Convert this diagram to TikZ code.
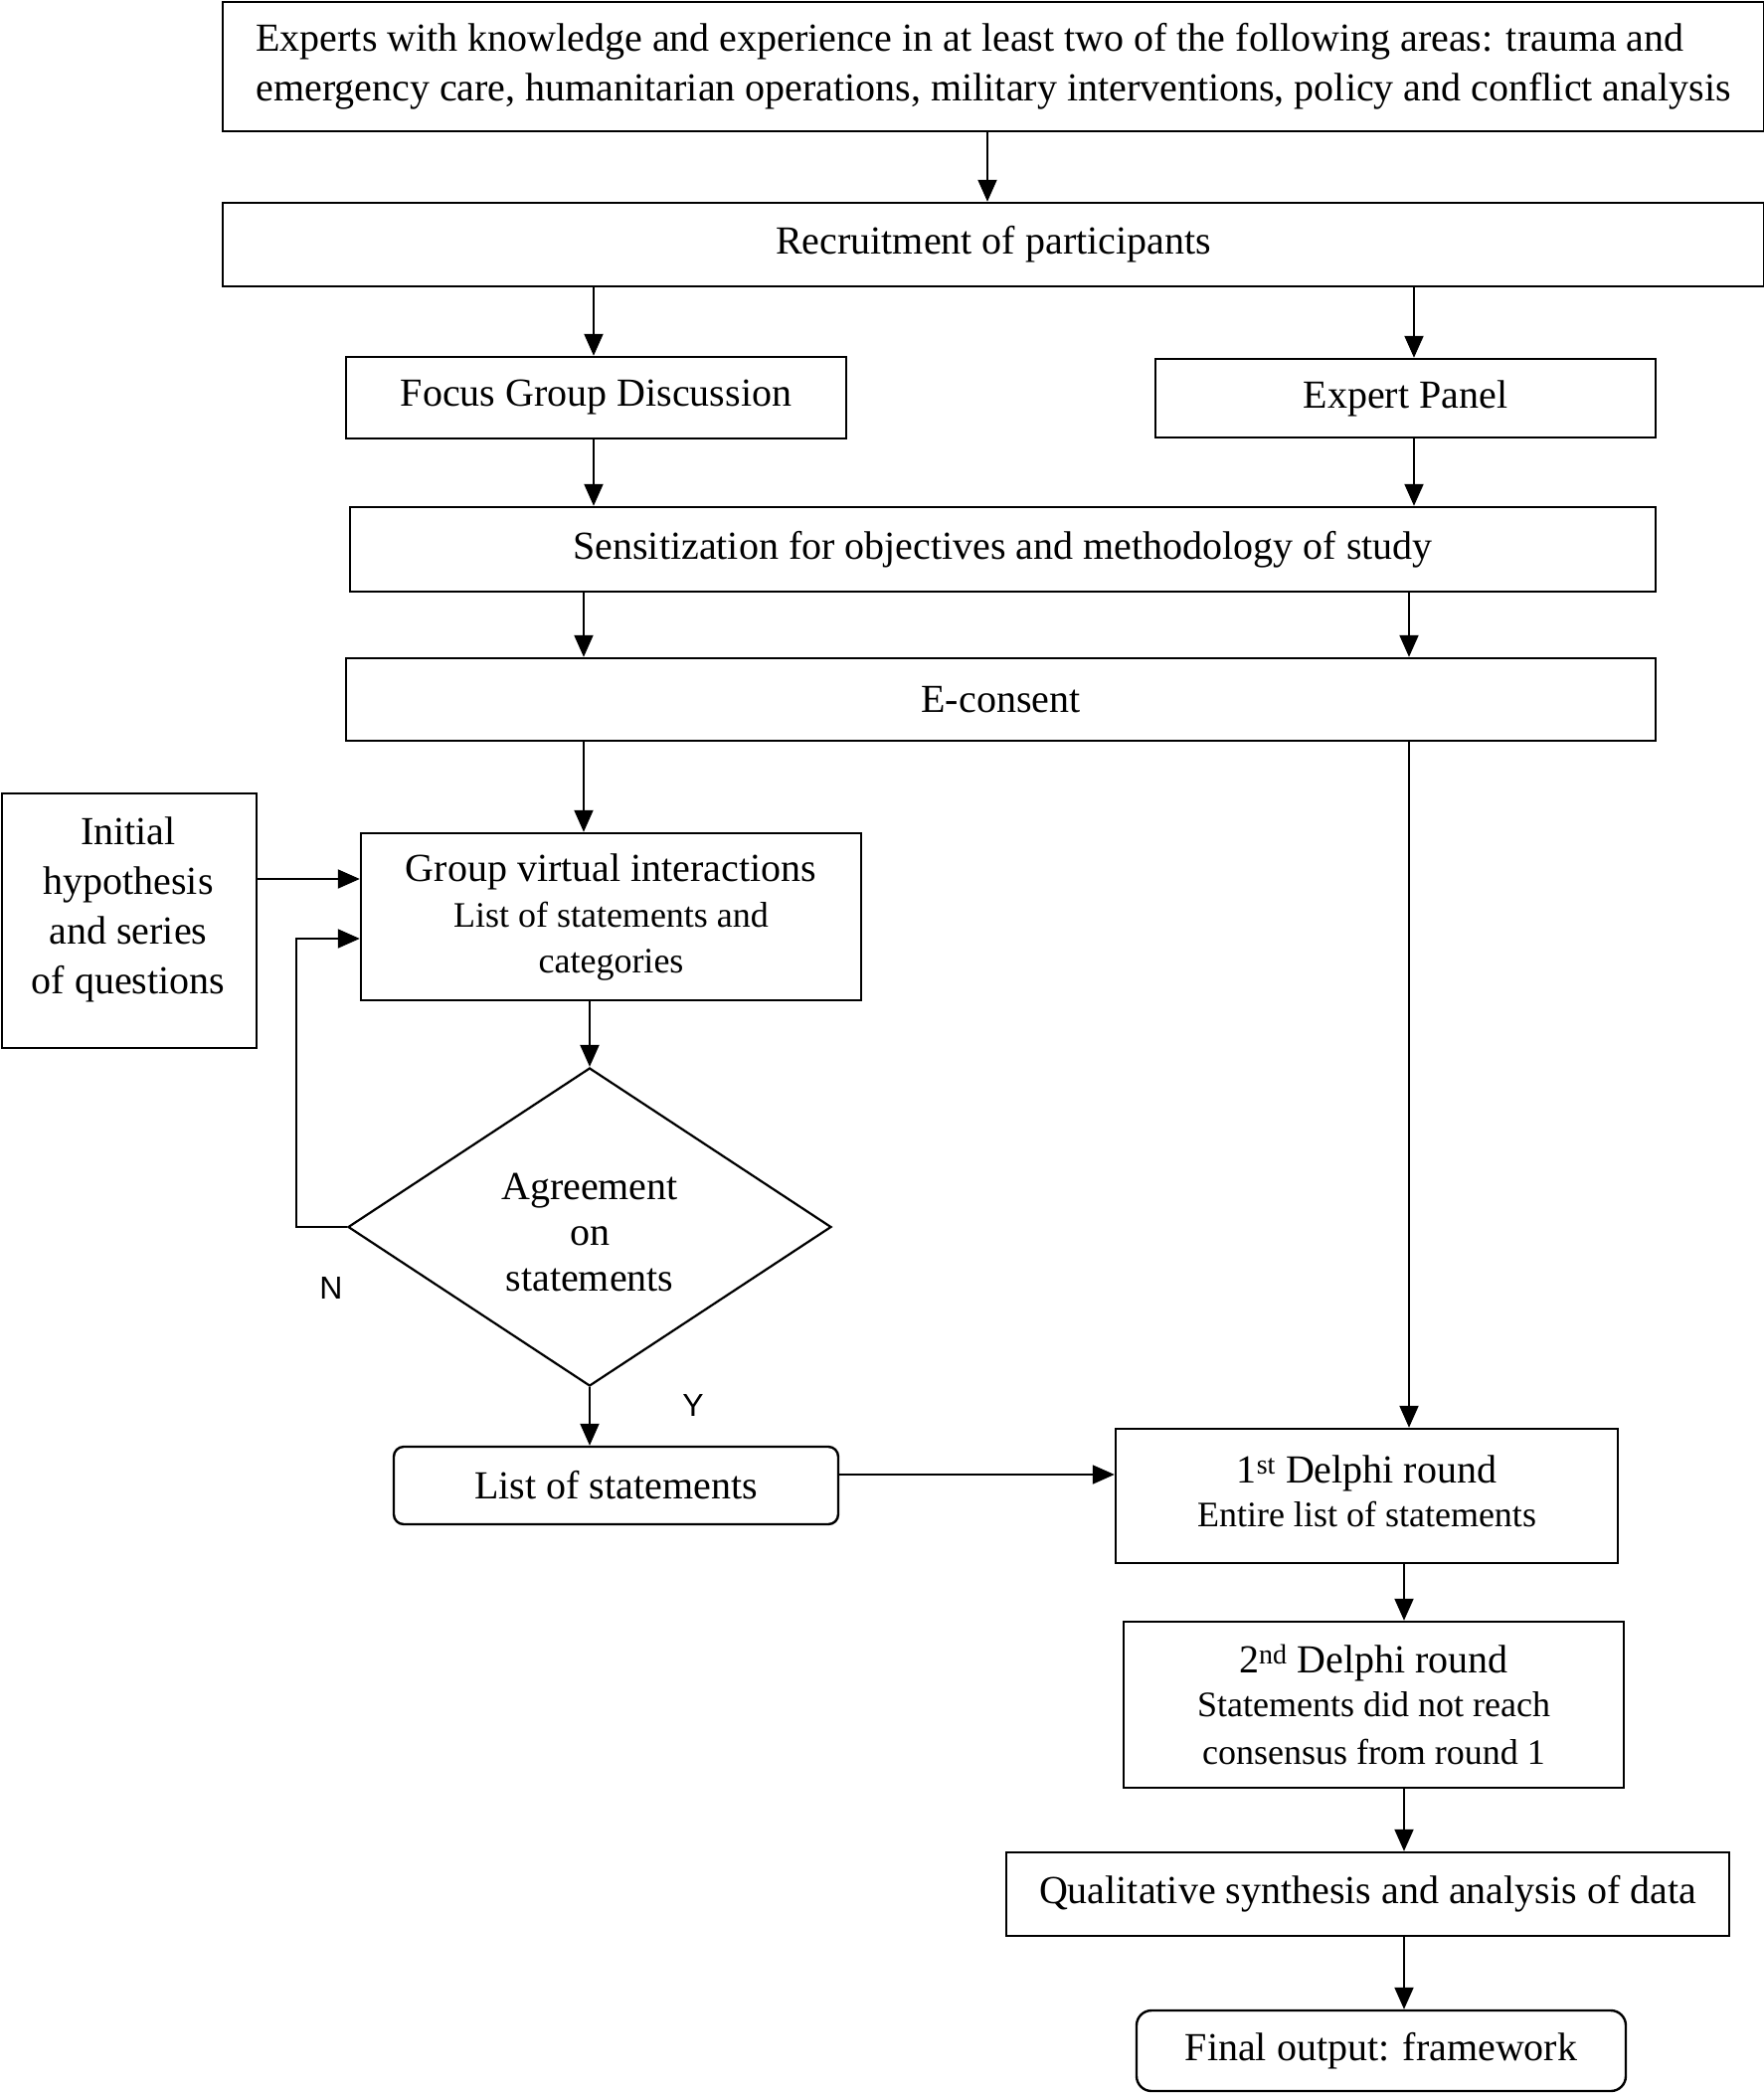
\documentclass[tikz,border=0pt]{standalone}
\usepackage{fontspec}
\setmainfont{Liberation Serif}
\newfontfamily\lsans{Liberation Sans}
\usetikzlibrary{arrows.meta,shapes.geometric}
\begin{document}
\begin{tikzpicture}[x=1pt,y=-1pt,
  box/.style={draw, line width=2.4pt, inner sep=0pt, align=center, font=\fontsize{40pt}{50pt}\selectfont},
  rbox/.style={box, rounded corners=10pt},
  arr/.style={-{Triangle[length=22pt,width=19pt]}, line width=2pt},
  lbl/.style={font=\lsans\fontsize{32pt}{36pt}\selectfont, inner sep=0pt},
  sub/.style={font=\fontsize{36pt}{44pt}\selectfont}]
\useasboundingbox (0,0) rectangle (1773,2105);

\node[box, minimum width=1550, minimum height=130, align=left] (b1) at (999,67)
 {Experts with knowledge and experience in at least two of the following areas: trauma and\\
  emergency care, humanitarian operations, military interventions, policy and conflict analysis};
\node[box, minimum width=1550, minimum height=84] (b2) at (999,246) {Recruitment of participants};
\node[box, minimum width=503, minimum height=82] (fg) at (599.5,400) {Focus Group Discussion};
\node[box, minimum width=503, minimum height=79] (ep) at (1413.5,400.5) {Expert Panel};
\node[box, minimum width=1313, minimum height=85] (sens) at (1008.5,552.5) {Sensitization for objectives and methodology of study};
\node[box, minimum width=1317, minimum height=83] (econ) at (1006.5,703.5) {E-consent};

\node[box, minimum width=256, minimum height=256] (init) at (130,926) {};
\node[align=center, inner sep=0pt, font=\fontsize{40pt}{50pt}\selectfont] (initt) at (129,915)
 {Initial\\hypothesis\\and series\\of questions};

\node[box, minimum width=503, minimum height=168] (gvi) at (614.5,922)
 {Group virtual interactions\\[-4pt]{\fontsize{36pt}{44pt}\selectfont List of statements and}\\[-4pt]{\fontsize{36pt}{44pt}\selectfont categories}};

\node[draw, diamond, line width=2.2pt, inner sep=0pt, minimum width=486, minimum height=320] (dia) at (593,1234) {};
\node[align=center, inner sep=0pt, font=\fontsize{40pt}{46pt}\selectfont] (diat) at (593,1239) {Agreement\\on\\statements};

\node[rbox, minimum width=447, minimum height=78] (list) at (619.5,1494) {List of statements};

\node[box, minimum width=505, minimum height=135] (d1) at (1374.5,1504.5) {};
\node[align=center, inner sep=0pt, font=\fontsize{40pt}{50pt}\selectfont] (d1t) at (1374.5,1500)
 {1\textsuperscript{st} Delphi round\\[-6pt]{\fontsize{36pt}{44pt}\selectfont Entire list of statements}};
\node[box, minimum width=503, minimum height=167] (d2) at (1381.5,1714.5)
 {2\textsuperscript{nd} Delphi round\\[-6pt]{\fontsize{36pt}{44pt}\selectfont Statements did not reach}\\[-2pt]{\fontsize{36pt}{44pt}\selectfont consensus from round 1}};
\node[box, minimum width=727, minimum height=84] (qual) at (1375.5,1905) {Qualitative synthesis and analysis of data};
\node[box, rounded corners=15pt, minimum width=492, minimum height=81] (fin) at (1389,2062.5) {Final output: framework};

\node[lbl] (N) at (333,1295) {N};
\node[lbl] (Y) at (697,1413) {Y};

% columns
\coordinate (L) at (597,0);
\coordinate (L2) at (587,0);
\coordinate (R) at (1422,0);
\coordinate (R2) at (1417,0);
\coordinate (R3) at (1412,0);

\draw[arr] ([xshift=-6pt]b1.south) -- ([xshift=-6pt]b2.north);
\draw[arr] (b2.south -| L) -- (fg.north -| L);
\draw[arr] (b2.south -| R) -- (ep.north -| R);
\draw[arr] (fg.south -| L) -- (sens.north -| L);
\draw[arr] (ep.south -| R) -- (sens.north -| R);
\draw[arr] (sens.south -| L2) -- (econ.north -| L2);
\draw[arr] (sens.south -| R2) -- (econ.north -| R2);
\draw[arr] (econ.south -| L2) -- (gvi.north -| L2);
\draw[arr] (econ.south -| R2) -- (d1.north -| R2);

\coordinate (ia) at ([yshift=42pt]init.east);
\draw[arr] (ia) -- (ia -| gvi.west);
\draw[arr] (gvi.south -| dia.north) -- (dia.north);

\coordinate (lb) at ([yshift=-22pt]gvi.west);
\draw[arr] (dia.west) -- ++(-51pt,0) |- (lb);

\draw[arr] (dia.south) -- (dia.south |- list.north);

\coordinate (la) at ([yshift=11pt]list.east);
\draw[arr] (la) -- (la -| d1.west);

\draw[arr] (d1.south -| R3) -- (d2.north -| R3);
\draw[arr] (d2.south -| R3) -- (qual.north -| R3);
\draw[arr] (qual.south -| R3) -- (fin.north -| R3);
\end{tikzpicture}
\end{document}
